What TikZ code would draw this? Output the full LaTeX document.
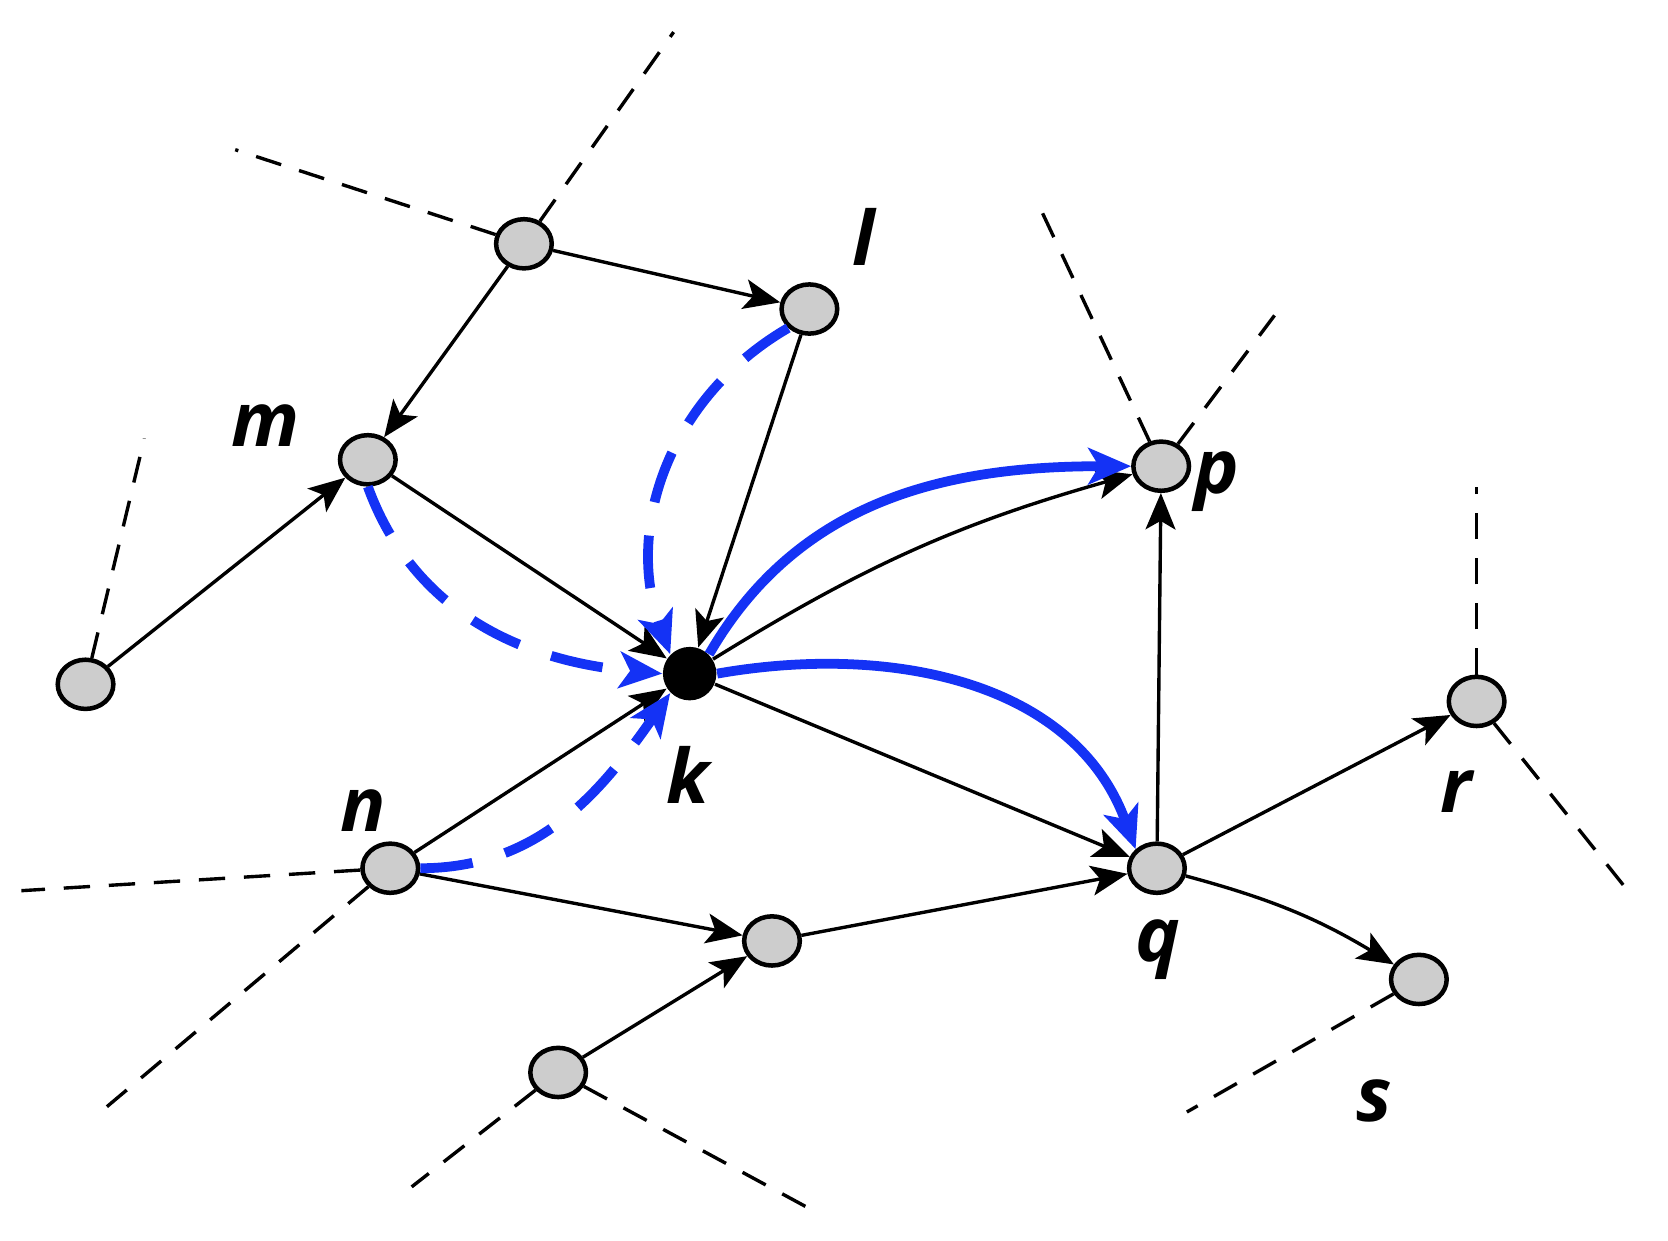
\documentclass[tikz,border=0pt]{standalone}
\usepackage{fontspec}
\setmainfont{Open Sans}
\usetikzlibrary{arrows.meta,shapes.geometric}
\definecolor{nodegray}{RGB}{205,205,205}
\definecolor{myblue}{RGB}{20,50,245}
\begin{document}
\begin{tikzpicture}[x=0.01cm,y=-0.01cm,
  vtx/.style={ellipse,draw,line width=1.2pt,fill=nodegray,minimum width=0.52cm,minimum height=0.46cm,inner sep=0pt},
  edge/.style={line width=0.9pt,-{Stealth[length=3.4mm,width=2.8mm,inset=0.8mm]}},
  dsh/.style={line width=0.9pt,dash pattern=on 7pt off 5pt},
  bsolid/.style={line width=2.6pt,color=myblue,-{Stealth[length=4mm,width=3.4mm,inset=1mm]}},
  bdash/.style={bsolid,dash pattern=on 14pt off 9pt},
  lab/.style={font=\fontsize{20}{20}\selectfont\bfseries\itshape}]
\useasboundingbox (0,0) rectangle (1560,1160);
\node[vtx] (a) at (490,228) {};
\node[vtx] (l) at (757,289) {};
\node[vtx] (m) at (344,430) {};
\node[vtx] (f) at (80,640) {};
\node[circle,fill=black,minimum size=0.5cm,inner sep=0pt] (k) at (645,630) {};
\node[vtx] (n) at (365,812) {};
\node[vtx] (c) at (722,880) {};
\node[vtx] (b) at (522,1003) {};
\node[vtx] (p) at (1086,436) {};
\node[vtx] (q) at (1082,812) {};
\node[vtx] (r) at (1381,656) {};
\node[vtx] (s) at (1327,916) {};
\coordinate (e1) at (630,30); \coordinate (e2) at (220,140);
\coordinate (e3) at (135,410); \coordinate (e4) at (20,833);
\coordinate (e5) at (100,1035); \coordinate (e6) at (385,1110);
\coordinate (e7) at (762,1133); \coordinate (e8) at (973,195);
\coordinate (e9) at (1192,295); \coordinate (e10) at (1381,455);
\coordinate (e11) at (1520,830); \coordinate (e12) at (1110,1040);
\foreach \u/\v in {a/e1,a/e2,f/e3,n/e4,n/e5,b/e6,b/e7,p/e8,p/e9,r/e10,r/e11,s/e12}
  \draw[dsh] (\u) -- (\v);
\node[lab] at (808,222) {l};
\node[lab] at (248,398) {m};
\node[lab] at (1138,450) {p};
\node[lab] at (643,725) {k};
\node[lab] at (340,758) {n};
\node[lab] at (1083,888) {q};
\node[lab] at (1362,740) {r};
\node[lab] at (1285,1030) {s};
\draw[edge] (a) -- (l);
\draw[edge] (a) -- (m);
\draw[edge] (f) -- (m);
\draw[edge] (m) -- (k);
\draw[edge] (l) -- (k);
\draw[edge] (n) -- (k);
\draw[edge] (k) to[bend left=8] (p);
\draw[edge] (q) -- (p);
\draw[edge] (k) -- (q);
\draw[edge] (n) -- (c);
\draw[edge] (b) -- (c);
\draw[edge] (c) -- (q);
\draw[edge] (q) -- (r);
\draw[edge] (q) to[bend left=8] (s);
\draw[bdash] (l.south west) to[bend right=40] (k.north west);
\draw[bdash] (m.south) to[out=-70,in=175] (k.west);
\draw[bdash] (n.east) to[out=0,in=-125] (k.south west);
\draw[bsolid] (k.north east) to[out=60,in=180] (p.west);
\draw[bsolid] (k.east) to[out=10,in=110] (q.north west);
\end{tikzpicture}
\end{document}
